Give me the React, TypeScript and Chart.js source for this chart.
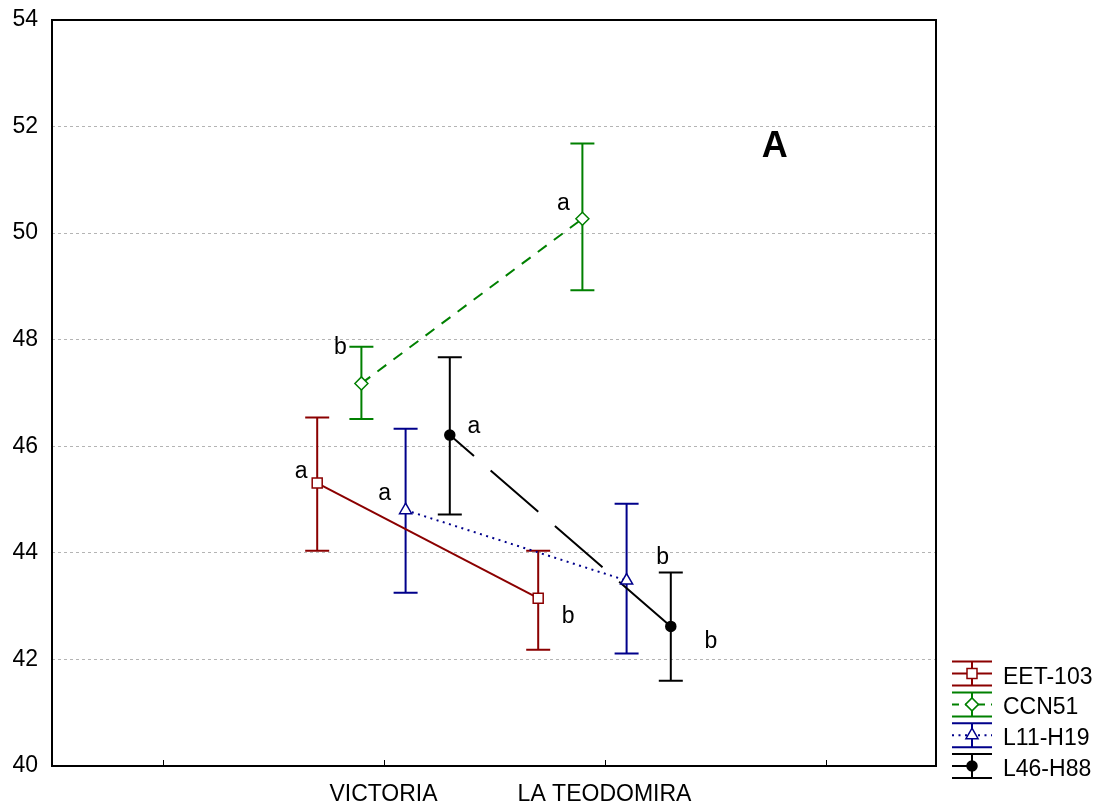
import React, { useEffect, useRef } from "react";
import { Chart, registerables } from "chart.js";
import { drawPoint } from "chart.js/helpers";

Chart.register(...registerables);

// ---------- data ----------
const categories = ["VICTORIA", "LA TEODOMIRA"];
const tickLabels = ["", "VICTORIA", "LA TEODOMIRA", ""];
const seriesNames = ["EET-103", "CCN51", "L11-H19", "L46-H88"];

const eet103Mean = [45.31, 43.15];
const eet103Upper = [46.54, 44.04];
const eet103Lower = [44.04, 42.18];

const ccn51Mean = [47.18, 50.27];
const ccn51Upper = [47.87, 51.68];
const ccn51Lower = [46.51, 48.93];

const l11h19Mean = [44.8, 43.48];
const l11h19Upper = [46.33, 44.92];
const l11h19Lower = [43.25, 42.11];

const l46h88Mean = [46.21, 42.62];
const l46h88Upper = [47.67, 43.63];
const l46h88Lower = [44.72, 41.6];

const eet103Letters = ["a", "b"];
const ccn51Letters = ["b", "a"];
const l11h19Letters = ["a", "b"];
const l46h88Letters = ["a", "b"];

const yMin = 40;
const yMax = 54;
const yStep = 2;
const panelLabel = "A";

// ---------- styles / layout ----------
const FONT = "'Liberation Sans', Arial, Helvetica, sans-serif";
const seriesOffsets = [-0.3, -0.1, 0.1, 0.3];
const styles = [
  { color: "#8b0000", dash: [] as number[], dashOffset: 0, legendDash: [] as number[], pointStyle: "rect", radius: 7.07, fill: "#ffffff" },
  { color: "#008000", dash: [11, 9], dashOffset: 0, legendDash: [7, 6], pointStyle: "rectRot", radius: 6.5, fill: "#ffffff" },
  { color: "#00008b", dash: [2, 4.5], dashOffset: 0, legendDash: [2, 4.5], pointStyle: "triangle", radius: 7, fill: "#ffffff" },
  { color: "#000000", dash: [63, 22], dashOffset: 31, legendDash: [20, 30], pointStyle: "circle", radius: 5, fill: "#000000" },
];
// pixel offsets of the significance letters relative to each mean marker
const letterOffsets = [
  [[-16, -11], [30, 19]],
  [[-21, -36], [-19, -15]],
  [[-21, -17], [36, -23]],
  [[24, -8], [40, 15]],
];

const series = [
  { name: seriesNames[0], mean: eet103Mean, upper: eet103Upper, lower: eet103Lower, letters: eet103Letters },
  { name: seriesNames[1], mean: ccn51Mean, upper: ccn51Upper, lower: ccn51Lower, letters: ccn51Letters },
  { name: seriesNames[2], mean: l11h19Mean, upper: l11h19Upper, lower: l11h19Lower, letters: l11h19Letters },
  { name: seriesNames[3], mean: l46h88Mean, upper: l46h88Upper, lower: l46h88Lower, letters: l46h88Letters },
];

const catPos = (ci: number) => tickLabels.indexOf(categories[ci]) + 1;

const CAP = 12;

const customPlugin = {
  id: "custom",
  beforeDraw(chart: any) {
    const { ctx, width, height } = chart;
    ctx.save();
    ctx.fillStyle = "#ffffff";
    ctx.fillRect(0, 0, width, height);
    ctx.restore();
  },
  beforeDatasetsDraw(chart: any) {
    const { ctx, scales } = chart;
    const xs = scales.x;
    const ys = scales.y;
    ctx.save();
    series.forEach((s, si) => {
      const st = styles[si];
      ctx.strokeStyle = st.color;
      ctx.lineWidth = 2;
      ctx.setLineDash([]);
      s.mean.forEach((_, ci) => {
        const px = xs.getPixelForValue(catPos(ci) + seriesOffsets[si]);
        const pu = ys.getPixelForValue(s.upper[ci]);
        const pl = ys.getPixelForValue(s.lower[ci]);
        ctx.beginPath();
        ctx.moveTo(px, pu);
        ctx.lineTo(px, pl);
        ctx.moveTo(px - CAP, pu);
        ctx.lineTo(px + CAP, pu);
        ctx.moveTo(px - CAP, pl);
        ctx.lineTo(px + CAP, pl);
        ctx.stroke();
      });
    });
    ctx.restore();
  },
  afterDraw(chart: any) {
    const { ctx, scales, chartArea } = chart;
    const xs = scales.x;
    const ys = scales.y;
    ctx.save();
    // frame
    ctx.setLineDash([]);
    ctx.strokeStyle = "#000";
    ctx.lineWidth = 2;
    ctx.strokeRect(chartArea.left, chartArea.top, chartArea.right - chartArea.left, chartArea.bottom - chartArea.top);
    // inward ticks on x axis
    ctx.lineWidth = 1;
    ctx.beginPath();
    tickLabels.forEach((_, i) => {
      const px = Math.round(xs.getPixelForValue(i + 1)) + 0.5;
      ctx.moveTo(px, chartArea.bottom);
      ctx.lineTo(px, chartArea.bottom - 6);
    });
    ctx.stroke();

    // significance letters
    ctx.fillStyle = "#000";
    ctx.font = `23px ${FONT}`;
    ctx.textAlign = "center";
    ctx.textBaseline = "middle";
    series.forEach((s, si) => {
      s.mean.forEach((m, ci) => {
        const px = xs.getPixelForValue(catPos(ci) + seriesOffsets[si]);
        const py = ys.getPixelForValue(m);
        const [dx, dy] = letterOffsets[si][ci];
        ctx.fillText(s.letters[ci], px + dx, py + dy);
      });
    });

    // panel label
    ctx.font = `bold 36px ${FONT}`;
    ctx.textBaseline = "alphabetic";
    ctx.fillText(panelLabel, xs.getPixelForValue(3.77), ys.getPixelForValue(51.42));

    // legend
    const symL = chartArea.right + 16;
    const symR = symL + 40;
    const symC = symL + 20;
    ctx.textAlign = "left";
    ctx.font = `23px ${FONT}`;
    series.forEach((s, si) => {
      const st = styles[si];
      const cy = chartArea.bottom - (series.length - 1 - si) * 30.8;
      ctx.strokeStyle = st.color;
      ctx.lineWidth = 2;
      ctx.setLineDash([]);
      ctx.beginPath();
      ctx.moveTo(symL, cy - CAP);
      ctx.lineTo(symR, cy - CAP);
      ctx.moveTo(symL, cy + CAP);
      ctx.lineTo(symR, cy + CAP);
      ctx.moveTo(symC, cy - CAP);
      ctx.lineTo(symC, cy + CAP);
      ctx.stroke();
      ctx.setLineDash(st.legendDash);
      ctx.beginPath();
      ctx.moveTo(symL, cy);
      ctx.lineTo(symR, cy);
      ctx.stroke();
      ctx.setLineDash([]);
      ctx.fillStyle = st.fill;
      ctx.lineWidth = 1.5;
      drawPoint(ctx, { pointStyle: st.pointStyle, radius: st.radius, rotation: 0, borderWidth: 1.5 } as any, symC, cy);
      ctx.fillStyle = "#000";
      ctx.fillText(s.name, symR + 11, cy + 10);
    });
    ctx.restore();
  },
};

export default function App() {
  const ref = useRef<HTMLCanvasElement | null>(null);

  useEffect(() => {
    if (!ref.current) return;
    const datasets = series.map((s, si) => {
      const st = styles[si];
      return {
        label: s.name,
        data: s.mean.map((m, ci) => ({ x: catPos(ci) + seriesOffsets[si], y: m })),
        borderColor: st.color,
        borderWidth: 2,
        borderDash: st.dash,
        borderDashOffset: st.dashOffset,
        pointStyle: st.pointStyle,
        pointRadius: st.radius,
        pointBackgroundColor: st.fill,
        pointBorderColor: st.color,
        pointBorderWidth: 1.5,
        fill: false,
        tension: 0,
      };
    });

    const chart = new Chart(ref.current, {
      type: "line",
      data: { datasets } as any,
      options: {
        animation: false,
        responsive: false,
        devicePixelRatio: 1,
        layout: { padding: { top: 20, right: 171, left: 0, bottom: 0 } },
        plugins: { legend: { display: false }, tooltip: { enabled: false } },
        scales: {
          x: {
            type: "linear",
            min: 0.5,
            max: 4.5,
            afterBuildTicks: (s: any) => {
              s.ticks = tickLabels.map((_, i) => ({ value: i + 1 }));
            },
            afterFit: (s: any) => {
              s.height = 41;
              s.paddingLeft = 0;
              s.paddingRight = 0;
            },
            ticks: {
              autoSkip: false,
              maxRotation: 0,
              padding: 15,
              color: "#000",
              font: { family: FONT, size: 23 },
              callback: (v: any) => tickLabels[Math.round(v) - 1] ?? "",
            },
            grid: { display: false, drawTicks: false },
            border: { display: false },
          },
          y: {
            min: yMin,
            max: yMax,
            afterFit: (s: any) => {
              s.width = 52;
              s.paddingTop = 0;
              s.paddingBottom = 0;
            },
            ticks: {
              stepSize: yStep,
              padding: 14,
              color: "#000",
              font: { family: FONT, size: 23 },
            },
            grid: {
              drawTicks: false,
              lineWidth: 1,
              color: (c: any) => (c.tick && c.tick.value > yMin && c.tick.value < yMax ? "#b4b4b4" : "rgba(0,0,0,0)"),
            },
            border: { display: false, dash: [3, 3] },
          },
        },
      },
      plugins: [customPlugin],
    } as any);
    return () => chart.destroy();
  }, []);

  return (
    <div style={{ position: "absolute", left: 0, top: 0, width: 1107, height: 807, background: "#fff" }}>
      <canvas ref={ref} width={1107} height={807} style={{ display: "block" }} />
    </div>
  );
}
